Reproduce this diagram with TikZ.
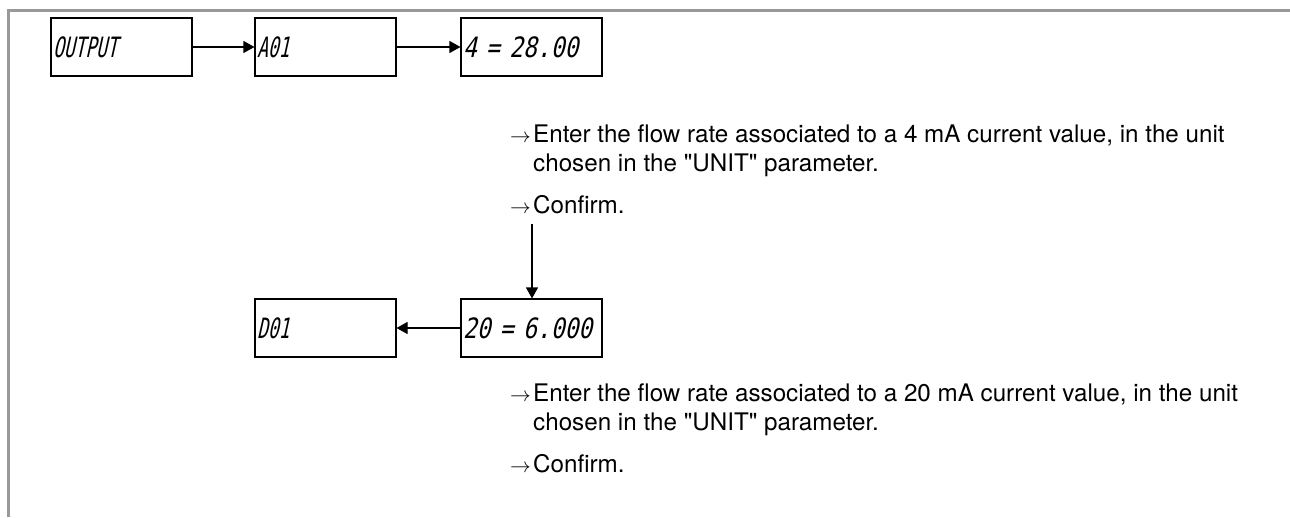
\documentclass[tikz,border=0pt]{standalone}
\usepackage{fontspec}
\setmainfont{TeX Gyre Heros}
\newfontfamily\lcdfont[FakeStretch=0.82,FakeSlant=0.22]{DejaVu Sans Mono}
\newfontfamily\lcdnarrow[FakeStretch=0.64,FakeSlant=0.22]{DejaVu Sans Mono}
\usetikzlibrary{arrows.meta}
\begin{document}
\begin{tikzpicture}[x=1pt,y=-1pt,
  lcdbox/.style={draw=black,line width=1.1pt,minimum width=141pt,minimum height=58pt,
     text width=137pt,align=left,inner xsep=2pt,inner ysep=0pt,
     font=\fontsize{28}{30}\selectfont\lcdfont},
  lcdword/.style={lcdbox,font=\fontsize{28}{30}\selectfont\lcdnarrow},
  flow/.style={draw=black,line width=1.1pt,-{Triangle[length=11pt,width=12pt]}},
  arrowsym/.style={anchor=base west,inner sep=0pt,font=\fontsize{20}{22}\selectfont},
  body/.style={anchor=base west,inner sep=0pt,align=left,
     font=\fontsize{24.2}{29}\selectfont},
  frame/.style={draw=black!40,line width=3pt}]
\useasboundingbox (0,0) rectangle (1290,517);
\draw[frame] (1290,10.5) -- (8.5,10.5) -- (8.5,517);

\node[lcdword] (out) at (121.5,47) {OUTPUT};
\node[lcdword] (ao) at (325.5,47) {A01};
\node[lcdbox] (four) at (531.5,47) {4 = 28.00};
\node[lcdword] (do) at (325.5,328) {D01};
\node[lcdbox] (tw) at (531.5,328) {20 = 6.000};

\draw[flow] (out.east) -- (ao.west);
\draw[flow] (ao.east) -- (four.west);
\draw[flow] (tw.west) -- (do.east);

\node[arrowsym] (a1) at (510,142) {$\rightarrow$};
\node[body] (t1) at (533,171) {Enter the flow rate associated to a 4 mA current value, in the unit\\chosen in the \textquotedbl UNIT\textquotedbl{} parameter.};
\node[arrowsym] (a2) at (510,213) {$\rightarrow$};
\node[body] (c1) at (533,213) {Confirm.};

\coordinate (vtop) at (532,224);
\draw[flow] (vtop) -- (vtop |- tw.north);

\node[arrowsym] (a3) at (510,401) {$\rightarrow$};
\node[body] (t2) at (533,430) {Enter the flow rate associated to a 20 mA current value, in the unit\\chosen in the \textquotedbl UNIT\textquotedbl{} parameter.};
\node[arrowsym] (a4) at (510,472) {$\rightarrow$};
\node[body] (c2) at (533,472) {Confirm.};
\end{tikzpicture}
\end{document}
